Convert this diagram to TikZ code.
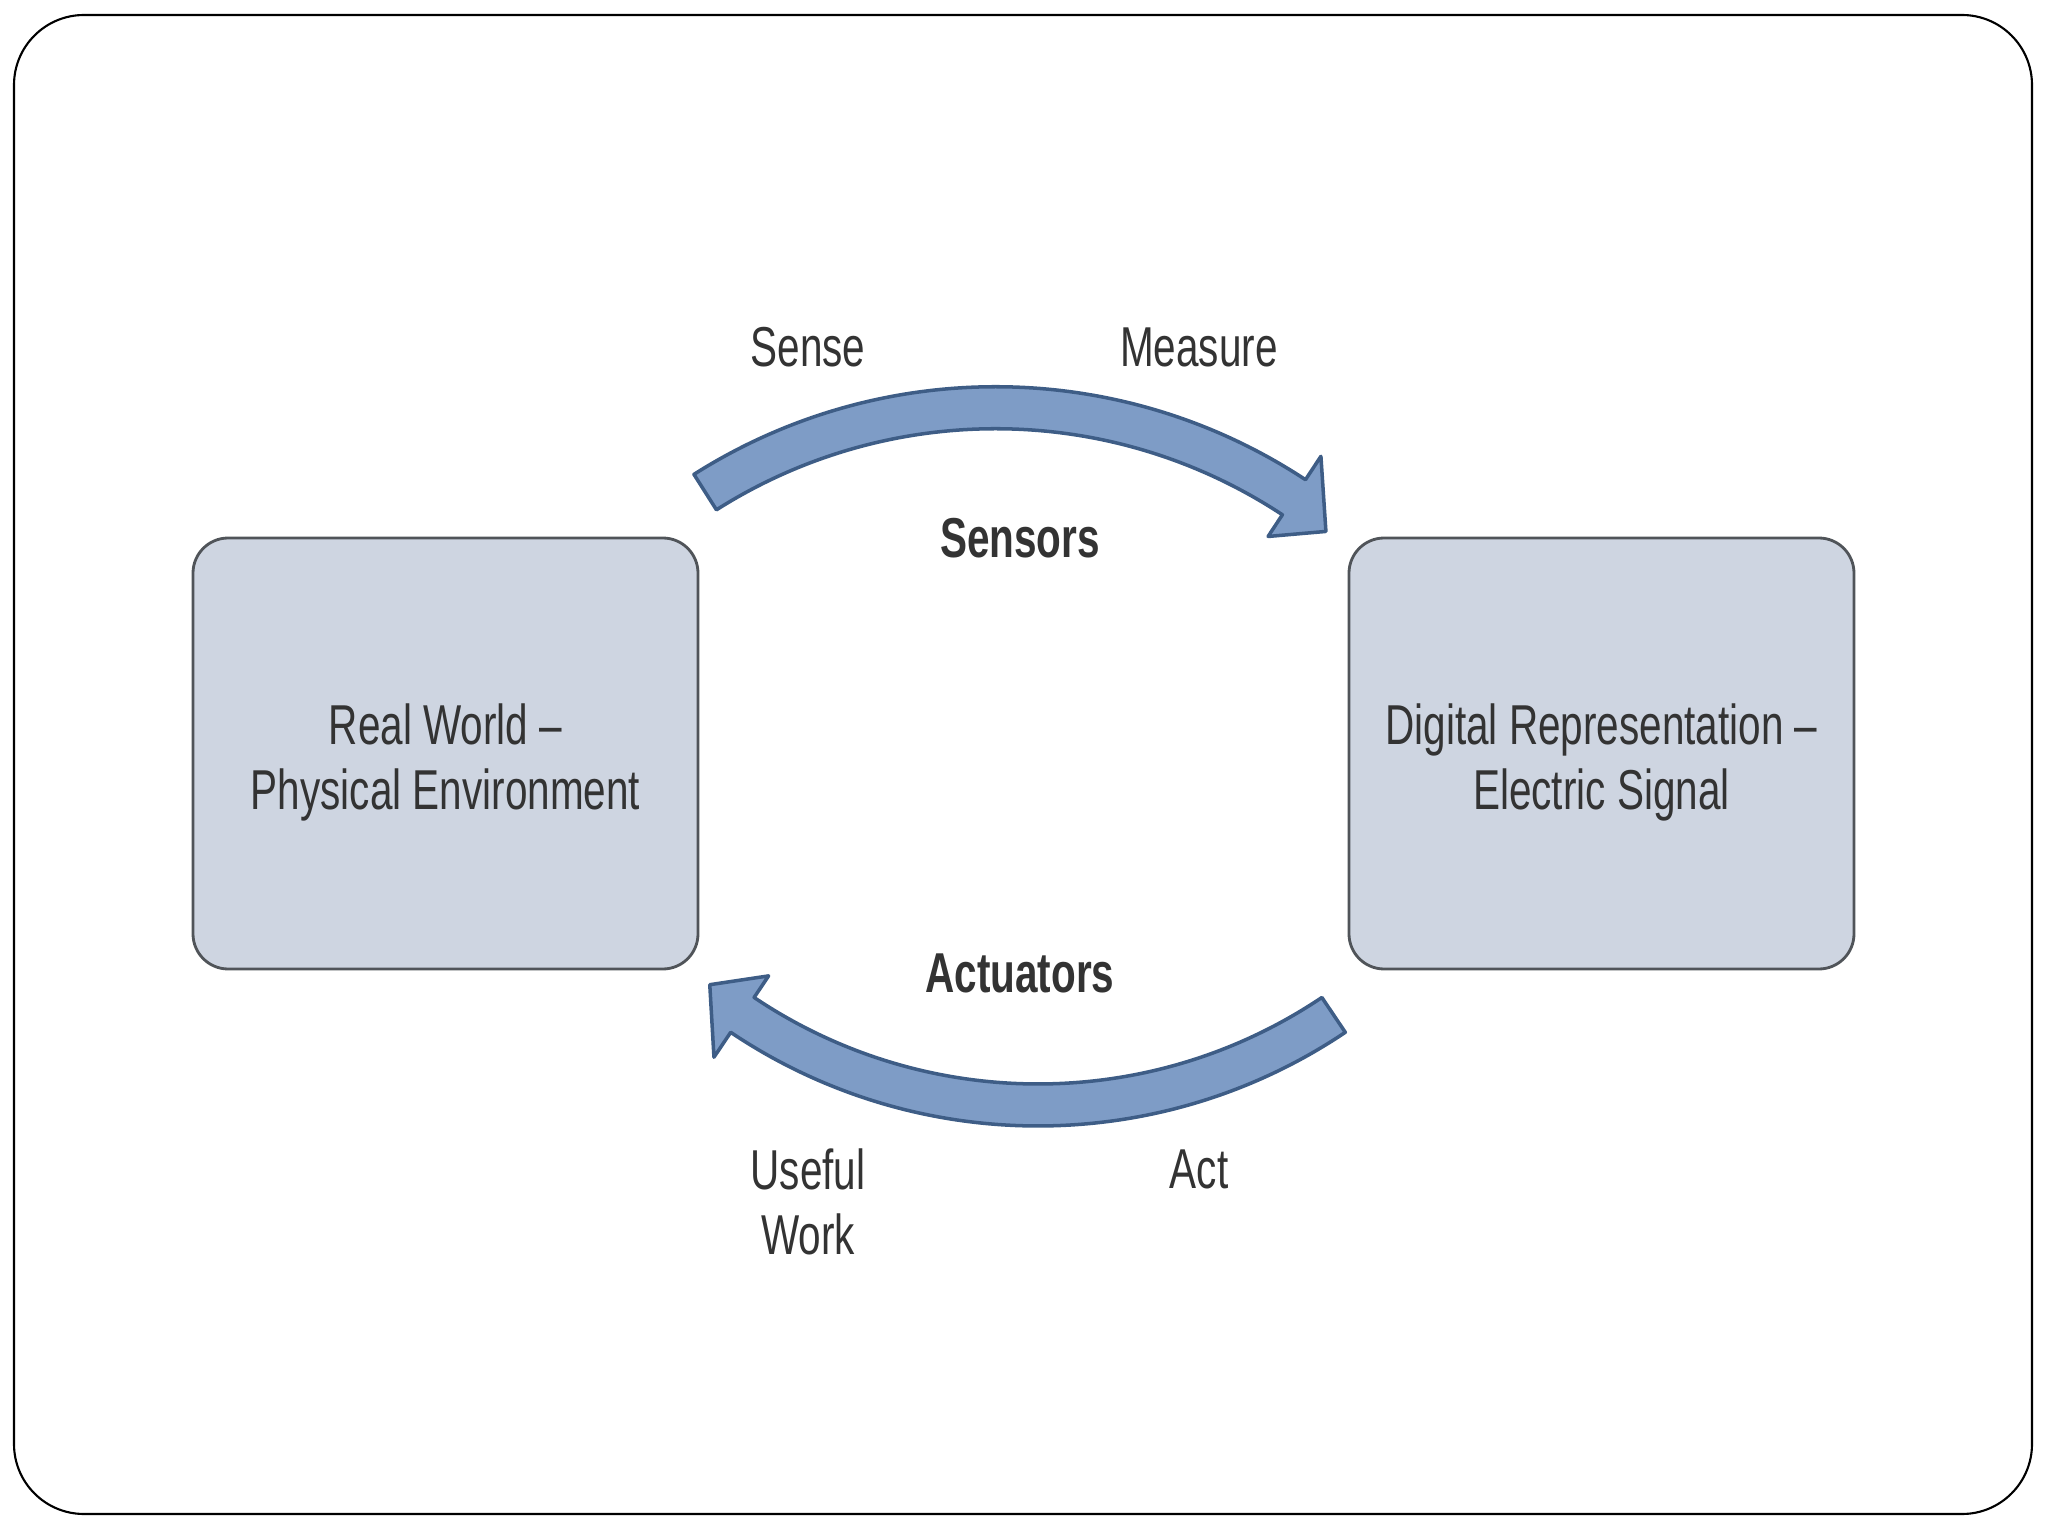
\documentclass[tikz,border=0pt]{standalone}
\usepackage{fontspec}
\setmainfont{Liberation Sans}[FakeStretch=0.72]
\usetikzlibrary{calc}
\definecolor{boxfill}{HTML}{CED5E1}
\definecolor{boxedge}{HTML}{505459}
\definecolor{arrowfill}{HTML}{7E9CC6}
\definecolor{arrowedge}{HTML}{3E5D86}
\definecolor{labeltext}{HTML}{333333}

\begin{document}
\begin{tikzpicture}[
    world box/.style={draw=boxedge, fill=boxfill, line width=0.8pt,
        rounded corners=10pt, minimum width=5.05cm, minimum height=4.31cm},
    verb label/.style={text=labeltext, align=center,
        font=\fontsize{16}{18.5}\selectfont},
    role label/.style={text=labeltext, align=center,
        font=\fontsize{16}{18.5}\selectfont\bfseries},
    box text/.style={verb label, yshift=-0.09cm},
    flow arrow/.style={draw=arrowedge, fill=arrowfill, line width=1pt,
        line join=round},
    slide frame/.style={draw=black, line width=0.6pt, rounded corners=0.7cm},
]

% ══════════════════════════════════════════════════════════════════════
%  DIMENSIONS — 1cm = 100px of the slide, origin top left
% ══════════════════════════════════════════════════════════════════════
\def\boxY{-7.535}
\def\upY{-3.47}  \def\lowY{-11.69}
\def\leftX{8.08} \def\rightX{11.99} \def\midX{10.20}

\useasboundingbox (0,0) rectangle (20.48,-15.36);
\draw[slide frame] (0.14,-0.15) rectangle (20.32,-15.14);

% ── the two worlds ────────────────────────────────────────────────────
\node[world box, label={[box text]center:{Real World --\\Physical Environment}}]
    (real) at (4.455,\boxY) {};
\node[world box, label={[box text]center:{Digital Representation --\\Electric Signal}}]
    (digital) at (16.015,\boxY) {};

% ── sensing arc (real -> digital) ─────────────────────────────────────
\coordinate (topc) at (9.956,-9.497);
\draw[flow arrow] ($(topc)+(122.4:5.63)$)
    arc[start angle=122.4, end angle=56.6, radius=5.63]
    -- ($(topc)+(56.6:5.91)$) -- ($(topc)+(51.7:5.33)$)
    -- ($(topc)+(56.6:4.95)$) -- ($(topc)+(56.6:5.21)$)
    arc[start angle=56.6, end angle=122.4, radius=5.21] -- cycle;

% ── acting arc (digital -> real) ──────────────────────────────────────
\coordinate (botc) at (10.38,-5.75);
\draw[flow arrow] ($(botc)+(-56.1:5.51)$)
    arc[start angle=-56.1, end angle=-123.9, radius=5.51]
    -- ($(botc)+(-123.9:5.81)$) -- ($(botc)+(-128.7:5.25)$)
    -- ($(botc)+(-123.9:4.83)$) -- ($(botc)+(-123.9:5.09)$)
    arc[start angle=-123.9, end angle=-56.1, radius=5.09] -- cycle;

% ── labels ────────────────────────────────────────────────────────────
\node[verb label] (sense) at (\leftX,\upY) {Sense};
\node[verb label] (measure) at (\rightX,\upY) {Measure};
\node[role label] (sensors) at (\midX,-5.38) {Sensors};
\node[role label] (actuators) at (\midX,-9.73) {Actuators};
\node[verb label] (useful) at (\leftX,-12.015) {Useful\\Work};
\node[verb label] (act) at (\rightX,\lowY) {Act};

\end{tikzpicture}
\end{document}
